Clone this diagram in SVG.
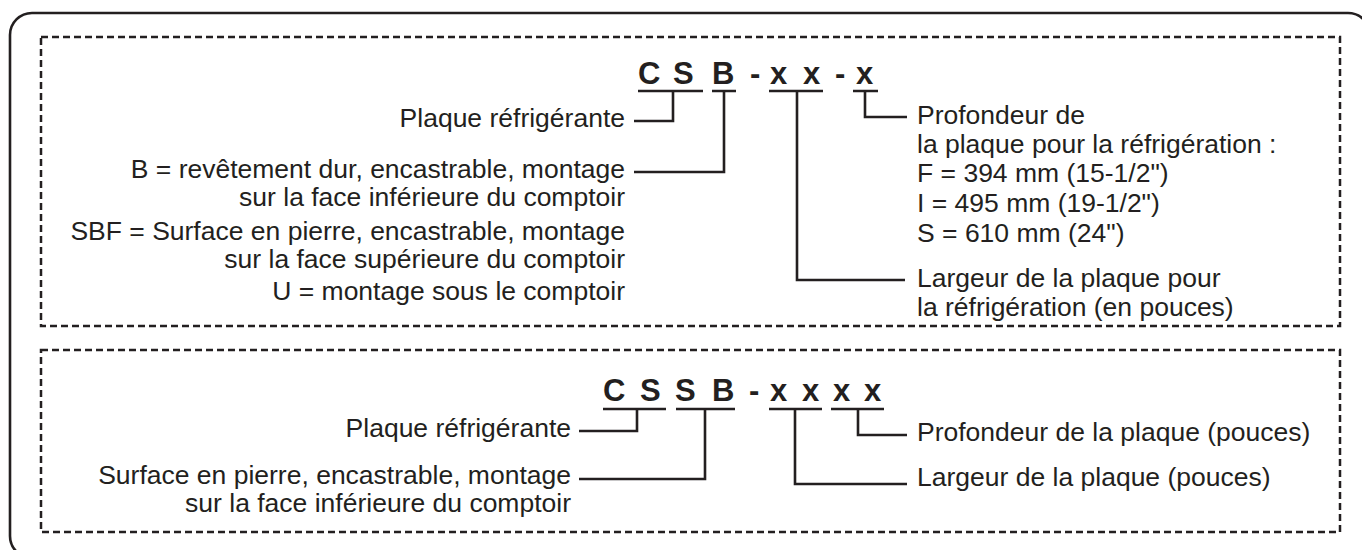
<svg xmlns="http://www.w3.org/2000/svg" width="1362" height="550" viewBox="0 0 1362 550">
<style>
.frame{fill:none;stroke:#231f20;stroke-width:2.6}
.dash{fill:none;stroke:#231f20;stroke-width:2.5;stroke-dasharray:7 4}
.ln{fill:none;stroke:#231f20;stroke-width:2.6;stroke-linecap:butt;stroke-linejoin:miter}
.t{font-family:"Liberation Sans",Arial,sans-serif;font-size:26.5px;fill:#231f20}
.e{text-anchor:end}
.code{font-family:"Liberation Sans",Arial,sans-serif;font-size:31px;font-weight:bold;fill:#231f20}
</style>
<rect class="frame" x="10" y="13" width="1360" height="545" rx="22"/>
<rect class="dash" x="41" y="37" width="1299" height="289"/>
<rect class="dash" x="41" y="350" width="1299" height="182"/>

<g id="code1">
<text class="code" x="638" y="84">C</text>
<text class="code" x="673" y="84">S</text>
<text class="code" x="712" y="84">B</text>
<text class="code" x="750" y="84">-</text>
<text class="code" x="770" y="84">x</text>
<text class="code" x="803" y="84">x</text>
<text class="code" x="835" y="84">-</text>
<text class="code" x="856" y="84">x</text>
</g>
<g id="code2">
<text class="code" x="603" y="401">C</text>
<text class="code" x="640" y="401">S</text>
<text class="code" x="675" y="401">S</text>
<text class="code" x="712" y="401">B</text>
<text class="code" x="749" y="401">-</text>
<text class="code" x="770" y="401">x</text>
<text class="code" x="802" y="401">x</text>
<text class="code" x="833" y="401">x</text>
<text class="code" x="864" y="401">x</text>
</g>

<g id="connectors">
<path class="ln" d="M638 91H703 M712 91H736 M769 91H823 M853 91H878"/>
<path class="ln" d="M673 91V121H634"/>
<path class="ln" d="M724 91V172H634"/>
<path class="ln" d="M797 91V280H905"/>
<path class="ln" d="M865 91V117H907"/>
<path class="ln" d="M603 409H666 M676 409H735 M769 409H822 M831 409H884"/>
<path class="ln" d="M637 409V431H579"/>
<path class="ln" d="M705 409V479H579"/>
<path class="ln" d="M795 409V484H907"/>
<path class="ln" d="M858 409V435H907"/>
</g>

<g id="top-left-labels">
<text class="t e" x="625" y="127">Plaque réfrigérante</text>
<text class="t e" x="625" y="178">B = revêtement dur, encastrable, montage</text>
<text class="t e" x="625" y="206">sur la face inférieure du comptoir</text>
<text class="t e" x="625" y="240">SBF = Surface en pierre, encastrable, montage</text>
<text class="t e" x="625" y="268">sur la face supérieure du comptoir</text>
<text class="t e" x="625" y="300">U = montage sous le comptoir</text>
</g>
<g id="top-right-labels">
<text class="t" x="917" y="124">Profondeur de</text>
<text class="t" x="917" y="153">la plaque pour la réfrigération :</text>
<text class="t" x="917" y="182">F = 394 mm (15-1/2")</text>
<text class="t" x="917" y="212">I = 495 mm (19-1/2")</text>
<text class="t" x="917" y="242">S = 610 mm (24")</text>
<text class="t" x="917" y="287">Largeur de la plaque pour</text>
<text class="t" x="917" y="316">la réfrigération (en pouces)</text>
</g>
<g id="bottom-left-labels">
<text class="t e" x="571" y="437">Plaque réfrigérante</text>
<text class="t e" x="571" y="484">Surface en pierre, encastrable, montage</text>
<text class="t e" x="571" y="512">sur la face inférieure du comptoir</text>
</g>
<g id="bottom-right-labels">
<text class="t" x="917" y="441">Profondeur de la plaque (pouces)</text>
<text class="t" x="917" y="486">Largeur de la plaque (pouces)</text>
</g>
</svg>
